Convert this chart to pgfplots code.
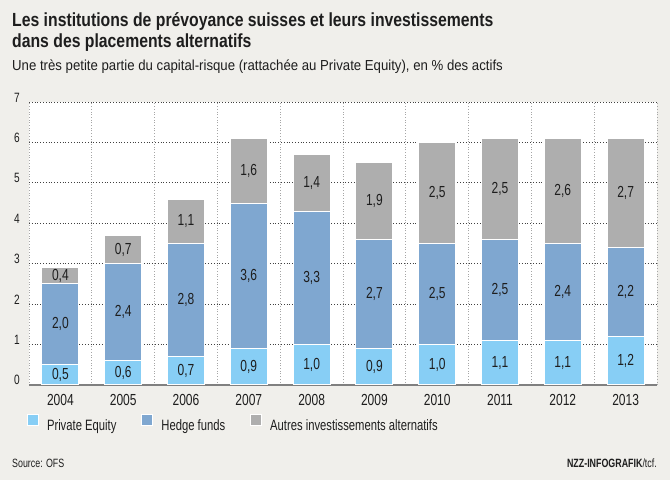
\documentclass[border=0pt]{standalone}
\usepackage{fontspec}
\setmainfont{Liberation Sans}[FakeStretch=0.75]
\newfontfamily\titlefont{Liberation Sans}[FakeStretch=0.83]
\newfontfamily\subfont{Liberation Sans}[FakeStretch=0.91]
\newfontfamily\footfont{Liberation Sans}[FakeStretch=0.74]
\usepackage{pgfplots}
\pgfplotsset{compat=1.18}
\usepackage{pgfplotstable}

\definecolor{bgbeige}{RGB}{240,239,235}
\definecolor{peblue}{RGB}{135,206,245}
\definecolor{hfblue}{RGB}{127,167,208}
\definecolor{othergray}{RGB}{174,174,174}
\definecolor{txt}{RGB}{30,30,30}

% Parts of total assets (%), per year
\pgfplotstableread{
x year pe  hf  other
0 2004 0.5 2.0 0.4
1 2005 0.6 2.4 0.7
2 2006 0.7 2.8 1.1
3 2007 0.9 3.6 1.6
4 2008 1.0 3.3 1.4
5 2009 0.9 2.7 1.9
6 2010 1.0 2.5 2.5
7 2011 1.1 2.5 2.5
8 2012 1.1 2.4 2.6
9 2013 1.2 2.2 2.7
}\datatable

\begin{document}
\begin{tikzpicture}
\fill[bgbeige] (0,0) rectangle (670bp,480bp);

% titles
\node[anchor=base west, inner sep=0, text=txt] at (12bp,453bp)
  {\titlefont\bfseries\fontsize{19bp}{22bp}\selectfont Les institutions de prévoyance suisses et leurs investissements};
\node[anchor=base west, inner sep=0, text=txt] at (12bp,432bp)
  {\titlefont\bfseries\fontsize{19bp}{22bp}\selectfont dans des placements alternatifs};
\node[anchor=base west, inner sep=0, text=txt] at (12bp,409bp)
  {\subfont\fontsize{14.5bp}{17bp}\selectfont Une très petite partie du capital-risque (rattachée au Private Equity), en \% des actifs};

\begin{axis}[
  at={(29bp,95bp)}, anchor=south west,
  scale only axis, width=628bp, height=283bp,
  xmin=-0.5, xmax=9.5, ymin=0, ymax=7,
  ybar stacked, bar width=37bp,
  axis background/.style={fill=white},
  axis line style={draw=none},
  major tick length=0pt, minor tick length=0pt,
  xtick={0,...,9},
  xticklabels={2004,2005,2006,2007,2008,2009,2010,2011,2012,2013},
  minor xtick={-0.5,0.5,...,9.5},
  ytick={0,...,6},
  extra y ticks={7},
  extra y tick style={grid style={black!35, line width=0.8bp, dash pattern=on 0.8bp off 2bp}},
  ymajorgrids, xminorgrids,
  major grid style={black!75, line width=0.8bp, dash pattern=on 0.8bp off 2bp},
  minor grid style={black!35, line width=0.7bp, dash pattern=on 0.7bp off 2bp},
  /pgf/number format/assume math mode=true,
  ticklabel style={text=txt, inner sep=0pt},
  xticklabel style={font=\fontsize{16bp}{18bp}\selectfont, anchor=base, yshift=-21bp},
  yticklabel style={font=\fontsize{13.5bp}{16bp}\selectfont, anchor=base east, xshift=-9bp},
  % stacked segments get their labels centred in the segment
  nodes near coords={\pgfmathprintnumber[fixed,fixed zerofill,precision=1,use comma,assume math mode=true]{\pgfplotspointmeta}},
  every node near coord/.append style={anchor=center, inner sep=0pt,
    font=\fontsize{16bp}{18bp}\selectfont, text=txt},
  point meta=explicit,
  clip=false,
  legend style={draw=none, fill=none, inner sep=0pt, outer sep=0pt,
    at={(axis description cs:0,-0.1025)}, anchor=north west, xshift=-2bp,
    legend columns=-1, font=\fontsize{15bp}{17bp}\selectfont, text=txt,
    nodes={inner sep=0pt},
    /tikz/every odd column/.append style={column sep=8bp},
    /tikz/every even column/.append style={column sep=25bp}},
  legend image code/.code={\fill[#1] (0bp,0bp) rectangle (11bp,11bp);},
]
\addplot[fill=peblue, draw=white, line width=1bp]
  table[x=x, y=pe, meta=pe] {\datatable};
\addplot[fill=hfblue, draw=white, line width=1bp]
  table[x=x, y=hf, meta=hf] {\datatable};
\addplot[fill=othergray, draw=white, line width=1bp]
  table[x=x, y=other, meta=other] {\datatable};
\legend{Private Equity, Hedge funds, Autres investissements alternatifs}
\draw[black!50, line width=1.5bp] (axis cs:-0.5,0) -- (axis cs:9.5,0);
\end{axis}

% footer
\node[anchor=base west, inner sep=0, text=txt] at (12bp,13bp)
  {\footfont\fontsize{12bp}{14bp}\selectfont Source: OFS};
\node[anchor=base east, inner sep=0, text=txt] at (657bp,13bp)
  {\footfont\fontsize{12bp}{14bp}\selectfont\textbf{NZZ-INFOGRAFIK}/tcf.};

\pgfresetboundingbox
\path (0,0) rectangle (670bp,480bp);
\end{tikzpicture}
\end{document}
